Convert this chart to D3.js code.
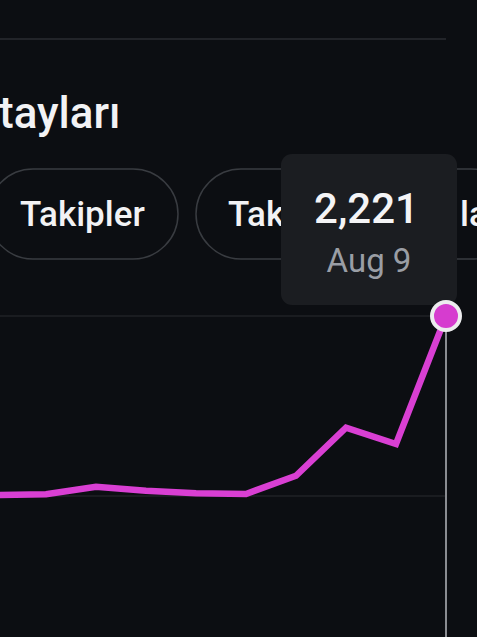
<!DOCTYPE html>
<html>
<head>
<meta charset="utf-8">
<script src="https://cdn.jsdelivr.net/npm/d3@7/dist/d3.min.js"></script>
<style>
  html, body { margin: 0; padding: 0; background: #0c0e12; overflow: hidden; }
  svg { display: block; }
</style>
</head>
<body>
<svg id="chart" width="477" height="637"></svg>
<script>
// ---- data ----
const titleText = "tayları";
const pillLabels = ["Takipler", "Tak", "la"];
const pointIndex = [0, 1, 2, 3, 4, 5, 6, 7, 8, 9];
const values = [12, 21, 115, 65, 33, 25, 250, 843, 642, 2221];
const tooltipValue = "2,221";
const tooltipDate = "Aug 9";
const yGrid = [0, 2221];

const svg = d3.select("#chart");
const W = 477, H = 637;
const FONT = "Roboto, 'Open Sans', sans-serif";

svg.append("rect").attr("width", W).attr("height", H).attr("fill", "#0c0e12");

// top separator
svg.append("line").attr("x1", 0).attr("x2", 446).attr("y1", 39).attr("y2", 39)
  .attr("stroke", "#2a2d32").attr("stroke-width", 1.5);

// title
svg.append("text").text(titleText)
  .attr("x", -1).attr("y", 128)
  .attr("fill", "#f2f2f4")
  .attr("font-family", FONT)
  .attr("font-weight", 500)
  .attr("font-size", 44);

// pills
const pills = [
  { x: -12, w: 190 },
  { x: 196, w: 320 }
];
const pg = svg.append("g");
pills.forEach(p => {
  pg.append("rect").attr("x", p.x).attr("y", 169).attr("width", p.w).attr("height", 90)
    .attr("rx", 45).attr("ry", 45)
    .attr("fill", "none").attr("stroke", "#393c41").attr("stroke-width", 1.5);
});
const pillTexts = [
  { label: pillLabels[0], x: 20 },
  { label: pillLabels[1], x: 228 },
  { label: pillLabels[2], x: 460 }
];
pg.selectAll("text").data(pillTexts).join("text")
  .text(d => d.label)
  .attr("x", d => d.x).attr("y", 226)
  .attr("fill", "#f2f2f4")
  .attr("font-family", FONT)
  .attr("font-weight", 500)
  .attr("font-size", 35);

// chart scales
const x = d3.scaleLinear().domain([0, 9]).range([-4, 446]);
const y = d3.scaleLinear().domain([0, 2221]).range([496, 316]);

// gridlines
svg.append("g").selectAll("line").data(yGrid).join("line")
  .attr("x1", 0).attr("x2", 445)
  .attr("y1", d => y(d)).attr("y2", d => y(d))
  .attr("stroke", "#1f2226").attr("stroke-width", 1.5);

// vertical guide
svg.append("line").attr("x1", x(9)).attr("x2", x(9)).attr("y1", y(2221)).attr("y2", H)
  .attr("stroke", "#b4b7bd").attr("stroke-width", 1.5);

// line
const line = d3.line().x((d, i) => x(pointIndex[i])).y(d => y(d));
svg.append("path").datum(values)
  .attr("d", line)
  .attr("fill", "none")
  .attr("stroke", "#d93fd3")
  .attr("stroke-width", 6.5)
  .attr("stroke-linejoin", "miter");

// tooltip
const tg = svg.append("g");
tg.append("rect").attr("x", 281).attr("y", 154).attr("width", 176).attr("height", 151)
  .attr("rx", 11).attr("fill", "#1b1d21");
tg.append("text").text(tooltipValue)
  .attr("x", 366.5).attr("y", 223).attr("text-anchor", "middle")
  .attr("fill", "#f4f4f6")
  .attr("font-family", FONT).attr("font-weight", 500)
  .attr("font-size", 42);
tg.append("text").text(tooltipDate)
  .attr("x", 369).attr("y", 272).attr("text-anchor", "middle")
  .attr("fill", "#9a9ea5")
  .attr("font-family", FONT).attr("font-weight", 400)
  .attr("font-size", 33);

// marker
svg.append("circle").attr("cx", x(9)).attr("cy", y(values[9])).attr("r", 14)
  .attr("fill", "#d63ccf").attr("stroke", "#ececee").attr("stroke-width", 4);
</script>
</body>
</html>
